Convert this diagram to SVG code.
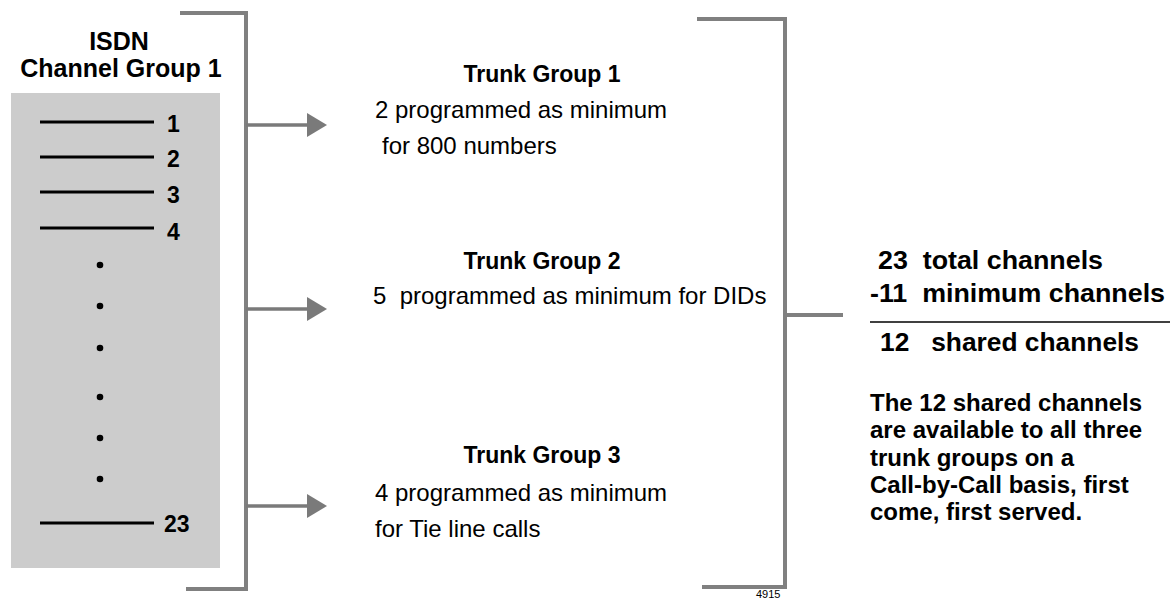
<svg xmlns="http://www.w3.org/2000/svg" width="1170" height="601" viewBox="0 0 1170 601">
<defs>
<style>
text { font-family: "Liberation Sans", Arial, Helvetica, sans-serif; fill: #000; white-space: pre; }
.title { font-size: 25px; font-weight: bold; text-anchor: middle; }
.num { font-size: 23px; font-weight: bold; }
.tg { font-size: 23px; font-weight: bold; text-anchor: middle; }
.body { font-size: 24px; }
.tot { font-size: 25.5px; font-weight: bold; }
.para { font-size: 24px; font-weight: bold; }
.bracket { fill: none; stroke: #808080; stroke-width: 4; }
.conn { fill: none; stroke: #7a7a7a; stroke-width: 3.5; }
.ch { stroke: #000; stroke-width: 3; }
</style>
<marker id="arr" markerWidth="20" markerHeight="24" refX="0" refY="12" orient="auto" markerUnits="userSpaceOnUse" viewBox="0 0 20 24">
<path d="M0,0 L20,12 L0,24 Z" fill="#7a7a7a"/>
</marker>
</defs>

<g id="channel-group">
<text class="title" x="119" y="50">ISDN</text>
<text class="title" x="121" y="77">Channel Group 1</text>
<rect x="11" y="93" width="209" height="475" fill="#cccccc"/>
<line class="ch" x1="40" y1="122" x2="154" y2="122"/>
<line class="ch" x1="40" y1="157" x2="154" y2="157"/>
<line class="ch" x1="40" y1="192" x2="154" y2="192"/>
<line class="ch" x1="40" y1="228" x2="154" y2="228"/>
<line class="ch" x1="40" y1="523" x2="154" y2="523"/>
<text class="num" x="167" y="132">1</text>
<text class="num" x="167" y="167">2</text>
<text class="num" x="167" y="203">3</text>
<text class="num" x="167" y="240">4</text>
<text class="num" x="164" y="532">23</text>
<circle cx="100" cy="265" r="3.3"/>
<circle cx="100" cy="306" r="3.3"/>
<circle cx="100" cy="348" r="3.3"/>
<circle cx="100" cy="397" r="3.3"/>
<circle cx="100" cy="438" r="3.3"/>
<circle cx="100" cy="479" r="3.3"/>
</g>

<g id="connectors">
<path class="bracket" d="M180,13 H246 V589 H186"/>
<line class="conn" x1="246" y1="125" x2="307" y2="125" marker-end="url(#arr)"/>
<line class="conn" x1="246" y1="309" x2="307" y2="309" marker-end="url(#arr)"/>
<line class="conn" x1="246" y1="506" x2="307" y2="506" marker-end="url(#arr)"/>
<path class="bracket" d="M697,19 H785 V587 H702"/>
<line class="bracket" x1="785" y1="315" x2="843" y2="315"/>
</g>

<g id="trunk-group-1">
<text class="tg" x="542" y="82">Trunk Group 1</text>
<text class="body" x="375" y="118">2 programmed as minimum</text>
<text class="body" x="382" y="154">for 800 numbers</text>
</g>

<g id="trunk-group-2">
<text class="tg" x="542" y="269">Trunk Group 2</text>
<text class="body" x="373" y="304">5  programmed as minimum for DIDs</text>
</g>

<g id="trunk-group-3">
<text class="tg" x="542" y="463">Trunk Group 3</text>
<text class="body" x="375" y="501">4 programmed as minimum</text>
<text class="body" x="375" y="537">for Tie line calls</text>
</g>

<g id="totals">
<text class="tot" x="878" y="269" textLength="225" lengthAdjust="spacingAndGlyphs">23  total channels</text>
<text class="tot" x="870" y="302" textLength="295" lengthAdjust="spacingAndGlyphs">-11  minimum channels</text>
<line x1="870" y1="322" x2="1170" y2="322" stroke="#000" stroke-width="1.5"/>
<text class="tot" x="880" y="351" textLength="259" lengthAdjust="spacingAndGlyphs">12   shared channels</text>
</g>

<g id="note">
<text class="para" x="870" y="411">The 12 shared channels</text>
<text class="para" x="870" y="438">are available to all three</text>
<text class="para" x="870" y="466">trunk groups on a</text>
<text class="para" x="870" y="493">Call-by-Call basis, first</text>
<text class="para" x="870" y="520">come, first served.</text>
</g>

<text x="756" y="598" font-size="11">4915</text>
</svg>
